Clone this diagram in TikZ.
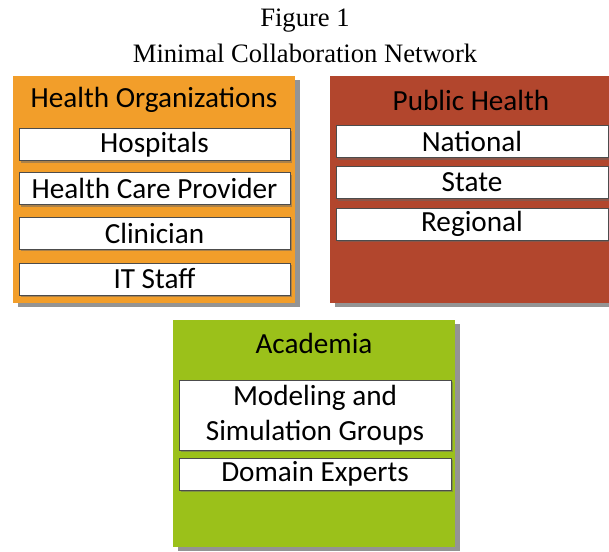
\documentclass[tikz,border=0pt]{standalone}
\usepackage{fontspec}
\setmainfont{Liberation Serif}
\newfontfamily\boxfont{Carlito}
\usetikzlibrary{shadows}

\definecolor{orgorange}{RGB}{242,158,42}
\definecolor{pubred}{RGB}{178,70,45}
\definecolor{acagreen}{RGB}{155,193,26}

\tikzset{
    group/.style={minimum width=141pt, minimum height=113.5pt, inner sep=0pt,
        drop shadow={shadow xshift=2.5pt, shadow yshift=-2pt, fill=black!70, opacity=.6}},
    head/.style={font=\boxfont\fontsize{14.6}{17}\selectfont},
    item/.style={draw=black!70, line width=.5pt, fill=white, minimum width=136pt,
        minimum height=16pt, inner sep=0pt, align=center,
        font=\boxfont\fontsize{14.6}{17.5}\selectfont,
        drop shadow={shadow xshift=1pt, shadow yshift=-1pt, fill=black!60, opacity=.5}}
}

\begin{document}
\begin{tikzpicture}[x=0.5pt, y=-0.5pt]
    \useasboundingbox (0,0) rectangle (609,551);
    \clip (0,0) rectangle (609,551);

    % Title
    \node[font=\fontsize{13.3}{15}\selectfont] (fig) at (305,21) {Figure 1};
    \node[font=\fontsize{13.3}{15}\selectfont] (title) at (305,53) {Minimal Collaboration Network};

    % Health organizations
    \node[group, fill=orgorange] (health) at (154,189.5) {};
    \node[head] (healthhead) at (154,100) {Health Organizations};
    \node[item, minimum width=135.5pt] (hosp) at (154.5,144.5) {Hospitals};
    \node[item, minimum width=135.5pt] (hcp) at (154.5,188.5) {Health Care Provider};
    \node[item, minimum width=135.5pt] (clin) at (154.5,233) {Clinician};
    \node[item, minimum width=135.5pt] (itstaff) at (154.5,279) {IT Staff};

    % Public health
    \node[group, fill=pubred] (public) at (471,189.5) {};
    \node[head] (publichead) at (471,100) {Public Health};
    \node[item] (national) at (472,141.5) {National};
    \node[item] (state) at (472,182.5) {State};
    \node[item] (regional) at (472,224) {Regional};

    % Academia
    \node[group, fill=acagreen] (academia) at (314,433.5) {};
    \node[head] (academiahead) at (314,343) {Academia};
    \node[item, minimum height=35pt] (modeling) at (315,415) {Modeling and\\Simulation Groups};
    \node[item] (domain) at (315,474) {Domain Experts};
\end{tikzpicture}
\end{document}
